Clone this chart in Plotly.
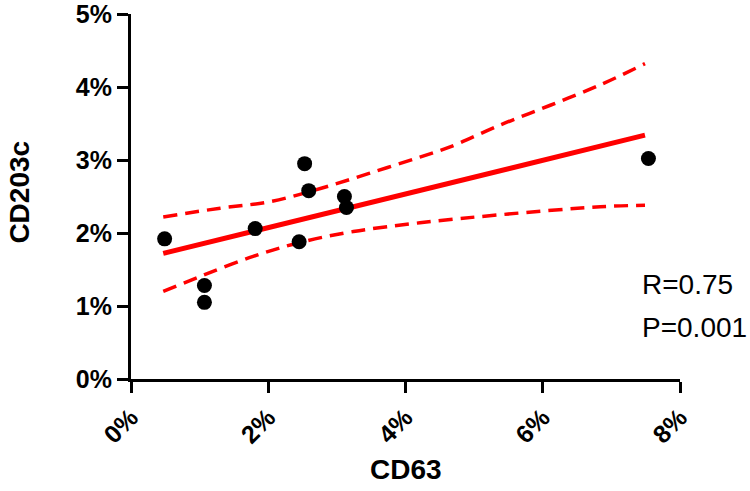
import plotly.graph_objects as go

# Data (percent units)
cd63 = [0.49, 1.07, 1.07, 1.81, 2.45, 2.53, 2.59, 3.11, 3.14, 7.54]
cd203c = [1.92, 1.28, 1.05, 2.06, 1.88, 2.95, 2.58, 2.50, 2.35, 3.02]

fit_x = [0.47, 7.49]
fit_y = [1.72, 3.34]

upper_x = [0.47, 1.30, 2.03, 2.76, 3.48, 4.21, 4.65, 5.38, 6.11, 6.84, 7.49]
upper_y = [2.22, 2.34, 2.43, 2.61, 2.82, 3.04, 3.18, 3.48, 3.75, 4.03, 4.32]
lower_x = [0.47, 1.05, 1.78, 2.46, 3.24, 4.21, 5.38, 6.84, 7.49]
lower_y = [1.20, 1.42, 1.68, 1.87, 2.02, 2.14, 2.25, 2.36, 2.38]

x_ticks = [0, 2, 4, 6, 8]
x_labels = ["0%", "2%", "4%", "6%", "8%"]
y_ticks = [0, 1, 2, 3, 4, 5]
y_labels = ["0%", "1%", "2%", "3%", "4%", "5%"]

FONT = "Liberation Sans, Arial, sans-serif"

fig = go.Figure()
fig.add_trace(go.Scatter(x=upper_x, y=upper_y, mode="lines",
                         line=dict(color="#ff0000", width=3.5, dash="14px,8px", shape="spline"),
                         hoverinfo="skip"))
fig.add_trace(go.Scatter(x=lower_x, y=lower_y, mode="lines",
                         line=dict(color="#ff0000", width=3.5, dash="14px,8px", shape="spline"),
                         hoverinfo="skip"))
fig.add_trace(go.Scatter(x=fit_x, y=fit_y, mode="lines",
                         line=dict(color="#ff0000", width=5)))
fig.add_trace(go.Scatter(x=cd63, y=cd203c, mode="markers",
                         marker=dict(color="black", size=15), cliponaxis=False))

axis_common = dict(showgrid=False, zeroline=False, showline=True, linecolor="black",
                   linewidth=3, ticks="outside", ticklen=11, tickwidth=3, tickcolor="black",
                   automargin=False, ticklabeloverflow="allow",
                   tickfont=dict(family=FONT, size=25, color="black"))

fig.update_layout(
    width=750, height=491,
    margin=dict(l=131, r=70, t=14, b=112),
    plot_bgcolor="white", paper_bgcolor="white",
    showlegend=False,
    xaxis=dict(range=[0, 8], tickvals=x_ticks, ticktext=["<b>%s</b>" % t for t in x_labels],
               tickangle=-45, **axis_common),
    yaxis=dict(range=[0, 5], tickvals=y_ticks, ticktext=["<b>%s</b>" % t for t in y_labels],
               **axis_common),
    annotations=[
        dict(x=0, y=2.56, xref="paper", yref="y", text="<b>CD203c</b>", showarrow=False,
             textangle=-90, xanchor="center", yanchor="middle", xshift=-111.5,
             font=dict(family=FONT, size=28, color="black")),
        dict(x=4, y=0, xref="x", yref="y", text="<b>CD63</b>", showarrow=False,
             xanchor="center", yanchor="middle", yshift=-90,
             font=dict(family=FONT, size=28, color="black")),
        dict(x=7.42, y=1.29, xref="x", yref="y", text="R=0.75", showarrow=False,
             xanchor="left", yanchor="middle", font=dict(family=FONT, size=28, color="black")),
        dict(x=7.42, y=0.70, xref="x", yref="y", text="P=0.001", showarrow=False,
             xanchor="left", yanchor="middle", font=dict(family=FONT, size=28, color="black")),
    ],
)

fig.write_html("out.html", config={"displayModeBar": False},
               post_script="document.body.style.margin='0';document.body.style.overflow='hidden';")
